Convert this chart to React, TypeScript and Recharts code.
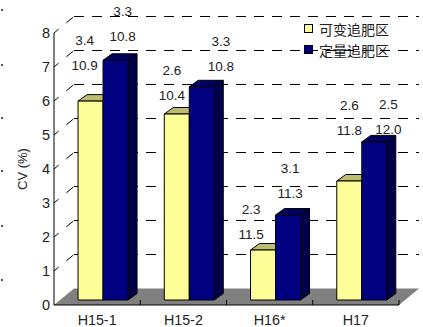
import { Bar, BarChart, CartesianGrid, LabelList, Legend, XAxis, YAxis } from "recharts";

const categories = ["H15-1", "H15-2", "H16*", "H17"];
const variableCv = [5.85, 5.47, 1.47, 3.5];
const fixedCv = [7.05, 6.27, 2.5, 4.65];
const variableYield = ["10.9", "10.4", "11.5", "11.8"];
const fixedYield = ["10.8", "10.8", "11.3", "12.0"];
const variableSd = ["3.4", "2.6", "2.3", "2.6"];
const fixedSd = ["3.3", "3.3", "3.1", "2.5"];
const yTicks = [0, 1, 2, 3, 4, 5, 6, 7, 8];

const rows = categories.map((name, i) => ({
  name,
  variableCv: variableCv[i],
  fixedCv: fixedCv[i],
  variableYield: variableYield[i],
  fixedYield: fixedYield[i],
  variableSd: variableSd[i],
  fixedSd: fixedSd[i],
}));

// how far each label pair sits from the top centre of its bar
const variableNudge = [[-6, -36], [-5, -19], [-12, -16], [0, -51]];
const fixedNudge = [[7, -24], [19, -20], [2, -22], [14, -12]];
const LINE_GAP = 25;

// the bars stand a little way into the floor
const FLOOR_DX = 5.5;
const FLOOR_DY = -5;
const DEPTH_X = 9;
const DEPTH_Y = 6.5;
const BACK_X = 20;
const BACK_Y = 16.5;

// small dark specks down the left edge of the page
const edgeSpecks = [9, 64, 117, 170, 225, 279];

const FONT = "'Liberation Sans', Arial, sans-serif";
const TEXT = "#222";

function makeBox(front: string, top: string, side: string) {
  return function Box(props: any) {
    const x = props.x + FLOOR_DX;
    const y = props.y + FLOOR_DY;
    const w = props.width;
    const h = props.height;
    return (
      <g stroke="#000" strokeWidth={1} strokeLinejoin="round">
        <polygon
          fill={top}
          points={`${x},${y} ${x + DEPTH_X},${y - DEPTH_Y} ${x + w + DEPTH_X},${y - DEPTH_Y} ${x + w},${y}`}
        />
        <polygon
          fill={side}
          points={`${x + w},${y} ${x + w + DEPTH_X},${y - DEPTH_Y} ${x + w + DEPTH_X},${y + h - DEPTH_Y} ${x + w},${y + h}`}
        />
        <rect x={x} y={y} width={w} height={h} fill={front} />
      </g>
    );
  };
}

function makeLabel(nudge: number[][], lift: number) {
  return function PairLabel(props: any) {
    const { x, y, width, index, value } = props;
    const [dx, dy] = nudge[index];
    return (
      <text
        x={x + FLOOR_DX + width / 2 + dx}
        y={y + FLOOR_DY + dy - lift}
        textAnchor="middle"
        dominantBaseline="central"
        fontFamily={FONT}
        fontSize={13.5}
        fill={TEXT}
      >
        {value}
      </text>
    );
  };
}

// each horizontal grid row: slanted wall edge, dashed back line; row 0 is the floor
function GridRow(props: any) {
  const { x1, x2, y1 } = props;
  const backY = y1 - BACK_Y;
  if (y1 > 300) {
    const step = (x2 - x1) / categories.length;
    return (
      <g>
        <polygon
          fill="#808080"
          points={`${x1},${y1} ${x1 + BACK_X},${backY} ${x2 + BACK_X},${backY} ${x2},${y1}`}
        />
        {categories.map((c, i) => (
          <line
            key={c}
            x1={x1 + step * (i + 1)}
            x2={x1 + step * (i + 1)}
            y1={y1}
            y2={y1 - 5}
            stroke="#000"
          />
        ))}
      </g>
    );
  }
  return (
    <g stroke="#000" strokeWidth={1} fill="none">
      <line
        x1={x1}
        y1={y1}
        x2={x1 + BACK_X}
        y2={backY}
        strokeDasharray="6 10 9"
      />
      <line
        x1={x1 + BACK_X}
        y1={backY}
        x2={x2 + BACK_X}
        y2={backY}
        strokeDasharray="10 8"
      />
    </g>
  );
}

function LegendBox() {
  const items = [
    { label: "可变追肥区", color: "#FFFF99" },
    { label: "定量追肥区", color: "#000080" },
  ];
  return (
    <div>
      {items.map((item) => (
        <div
          key={item.label}
          style={{ display: "flex", alignItems: "center", height: 21 }}
        >
          <span
            style={{
              width: 7,
              height: 7,
              marginRight: 6,
              background: item.color,
              border: "1px solid #000",
            }}
          />
          <span
            style={{
              fontFamily: "'Noto Sans CJK SC', sans-serif",
              fontSize: 14,
              color: TEXT,
              whiteSpace: "nowrap",
            }}
          >
            {item.label}
          </span>
        </div>
      ))}
    </div>
  );
}

export default function App() {
  return (
    <div style={{ position: "absolute", left: 0, top: 0, width: 423, height: 327 }}>
      {edgeSpecks.map((top) => (
        <span
          key={top}
          style={{ position: "absolute", left: 1, top, width: 2, height: 2, background: "#555" }}
        />
      ))}
      <BarChart
        width={423}
        height={327}
        data={rows}
        margin={{ top: 33, right: 24, left: 14, bottom: 0 }}
        barGap={0}
        barCategoryGap="21.5%"
      >
        <CartesianGrid vertical={false} horizontal={GridRow} />
        <XAxis
          dataKey="name"
          height={22}
          tickLine={false}
          axisLine={{ stroke: "#000", strokeWidth: 1 }}
          tick={{ fontSize: 14.3, fontFamily: FONT, fill: TEXT }}
          tickMargin={4}
        />
        <YAxis
          width={40}
          domain={[0, 8]}
          ticks={yTicks}
          interval={0}
          tickLine={false}
          axisLine={{ stroke: "#000", strokeWidth: 1 }}
          tick={{ fontSize: 14.5, fontFamily: FONT, fill: TEXT, dx: 2 }}
          tickMargin={0}
          label={{
            value: "CV (%)",
            angle: -90,
            position: "insideLeft",
            offset: 0,
            dx: 8,
            dy: 21,
            fontSize: 13,
            fontFamily: FONT,
            fill: TEXT,
          }}
        />
        <Legend
          content={<LegendBox />}
          layout="vertical"
          align="center"
          verticalAlign="middle"
          wrapperStyle={{ position: "absolute", left: 304, top: 18, width: 100, bottom: "auto" }}
        />
        <Bar
          dataKey="variableCv"
          name="可变追肥区"
          isAnimationActive={false}
          shape={makeBox("#FFFF99", "#BDBD70", "#BDBD70")}
        >
          <LabelList dataKey="variableYield" content={makeLabel(variableNudge, 0)} />
          <LabelList dataKey="variableSd" content={makeLabel(variableNudge, LINE_GAP)} />
        </Bar>
        <Bar
          dataKey="fixedCv"
          name="定量追肥区"
          isAnimationActive={false}
          shape={makeBox("#000080", "#000060", "#00004D")}
        >
          <LabelList dataKey="fixedYield" content={makeLabel(fixedNudge, 0)} />
          <LabelList dataKey="fixedSd" content={makeLabel(fixedNudge, LINE_GAP)} />
        </Bar>
      </BarChart>
    </div>
  );
}
